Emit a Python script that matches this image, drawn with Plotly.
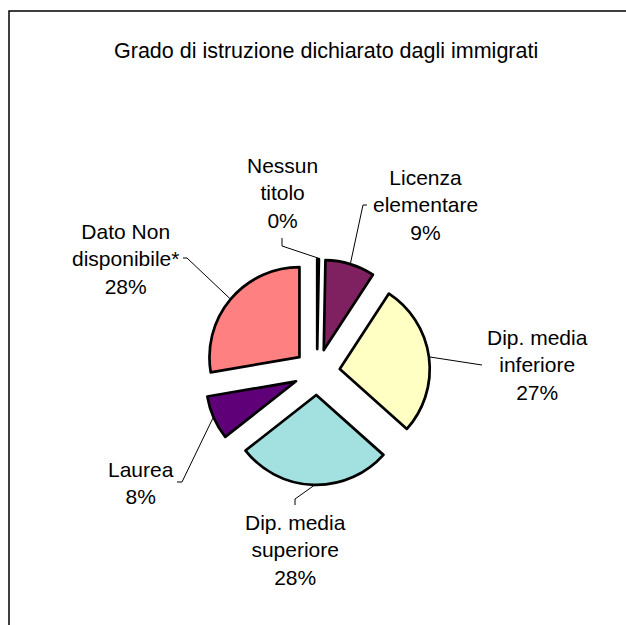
import math
import plotly.graph_objects as go

# ---------------- data ----------------
chart_title = "Grado di istruzione dichiarato dagli immigrati"
categories = ["Nessun titolo", "Licenza elementare", "Dip. media inferiore",
              "Dip. media superiore", "Laurea", "Dato Non disponibile*"]
label_text = ["Nessun<br>titolo", "Licenza<br>elementare", "Dip. media<br>inferiore",
              "Dip. media<br>superiore", "Laurea", "Dato Non<br>disponibile*"]
values = [0.3, 8.9, 27.4, 27.8, 7.9, 27.7]

# ---------------- style / layout ----------------
colors = ["#9999FF", "#7F2160", "#FFFFC4", "#A3E0E0", "#5F0079", "#FF8080"]
W, H = 626, 625
CX, CY = 317, 372      # pie centre (px)
R = 90                 # slice radius (px)
PULL = 0.255           # explode fraction
FONT = "Liberation Sans, Arial, sans-serif"

# label block centres (px) and leader-line elbow/tip (px)
label_pos = [(282, 193), (425, 205), (537, 364.5), (295, 550), (141, 483), (125, 258.5)]
leader_elbow = [(282, 246), (363, 205), None, (295, 499), (182, 482), (187, 258)]
leader_tip = [(282, 238), (367, 205), (482, 365), (295, 505), (177, 482), (183, 258)]


def px(x):
    return x / W


def py(y):
    return 1 - y / H


S = 2 * R * (1 + PULL)
fig = go.Figure(go.Pie(
    labels=categories, values=values, sort=False, direction="clockwise", rotation=0,
    pull=[PULL] * len(values),
    marker=dict(colors=colors, line=dict(color="black", width=2.7)),
    textinfo="none", hoverinfo="label+percent",
    domain=dict(x=[px(CX - S / 2), px(CX + S / 2)], y=[py(CY + S / 2), py(CY - S / 2)]),
    showlegend=False,
))

total = sum(values)
shapes = [dict(type="rect", xref="paper", yref="paper",
               x0=px(9), y0=py(11), x1=px(W + 10), y1=py(H + 10),
               line=dict(color="black", width=1.5))]
annotations = [dict(text=chart_title, x=px(326), y=py(51), xref="paper", yref="paper",
                    showarrow=False, xanchor="center", yanchor="middle",
                    font=dict(family=FONT, size=21.5, color="black"))]

cum = 0.0
for i, v in enumerate(values):
    mid = (cum + v / 2) / total * 2 * math.pi
    cum += v
    rr = R * (1 + PULL) + 1
    sx, sy = CX + rr * math.sin(mid), CY - rr * math.cos(mid)
    pts = [(sx, sy)]
    if leader_elbow[i] is not None:
        pts.append(leader_elbow[i])
    pts.append(leader_tip[i])
    path = "M " + " L ".join(f"{px(x):.5f},{py(y):.5f}" for x, y in pts)
    shapes.append(dict(type="path", xref="paper", yref="paper", path=path,
                       line=dict(color="black", width=1)))
    pct = round(v / total * 100)
    lx, ly = label_pos[i]
    annotations.append(dict(text=f"{label_text[i]}<br>{pct}%", x=px(lx), y=py(ly),
                            xref="paper", yref="paper", showarrow=False,
                            xanchor="center", yanchor="middle", align="center",
                            font=dict(family=FONT, size=21, color="black")))

fig.update_layout(width=W, height=H, margin=dict(l=0, r=0, t=0, b=0),
                  paper_bgcolor="white", plot_bgcolor="white",
                  shapes=shapes, annotations=annotations)

fig.write_html("out.html", config={"displayModeBar": False},
               post_script="document.body.style.margin='0';document.body.style.overflow='hidden';")
